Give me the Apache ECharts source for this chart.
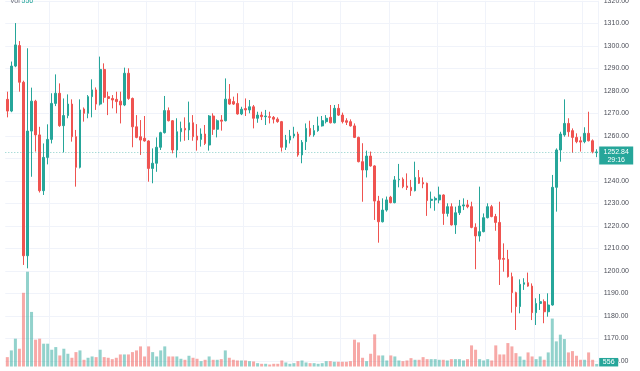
<!DOCTYPE html>
<html><head><meta charset="utf-8">
<script src="https://cdn.jsdelivr.net/npm/echarts@6/dist/echarts.min.js"></script>
<style>html,body{margin:0;padding:0;background:#fff}#c{width:640px;height:371px}</style>
</head><body><div id="c"></div>
<script>
// ---- data ----
const opens = [1276.2,1271.0,1291.0,1300.1,1283.8,1206.7,1262.1,1275.4,1260.4,1235.6,
1250.4,1258.4,1274.4,1278.9,1264.5,1269.0,1274.1,1259.6,1246.0,1271.9,
1270.0,1277.4,1280.4,1274.1,1289.5,1277.4,1276.6,1276.2,1275.4,1273.7,
1287.8,1276.6,1264.0,1259.6,1258.9,1257.7,1245.5,1247.8,1254.9,1261.4,
1271.2,1266.7,1253.7,1261.8,1263.3,1262.6,1265.8,1259.9,1258.4,1260.8,
1255.9,1268.8,1262.9,1267.0,1266.7,1276.3,1275.2,1274.4,1269.7,1272.1,
1271.5,1272.9,1267.8,1269.2,1268.5,1268.5,1268.2,1267.4,1266.3,1254.9,
1258.1,1259.9,1260.8,1251.5,1257.4,1263.3,1260.4,1262.3,1264.4,1266.3,
1268.2,1265.8,1272.2,1269.2,1266.7,1266.3,1264.4,1259.3,1248.5,1244.8,
1251.0,1246.6,1231.0,1221.8,1227.0,1232.7,1230.3,1240.4,1240.7,1237.7,
1237.1,1235.6,1241.5,1239.2,1238.9,1231.3,1231.5,1231.5,1233.7,1225.5,
1228.5,1220.4,1225.8,1228.8,1229.3,1228.5,1219.3,1215.5,1217.4,1223.6,
1228.5,1224.1,1221.5,1205.5,1205.1,1197.4,1190.3,1184.1,1194.0,1194.7,
1193.2,1181.4,1185.5,1186.3,1181.8,1184.8,1237.1,1253.7,1260.4,1265.5,
1262.3,1259.3,1257.8,1257.4,1261.1,1257.8,1252.5];
const closes = [1271.0,1291.0,1300.4,1283.8,1206.7,1262.1,1275.4,1260.4,1235.6,1250.4,
1258.4,1274.4,1278.9,1264.5,1269.0,1274.1,1259.6,1246.0,1271.5,1270.0,
1277.4,1280.4,1274.1,1289.5,1277.1,1276.6,1275.9,1275.2,1273.7,1287.8,
1276.6,1264.0,1259.3,1258.1,1257.7,1245.5,1247.8,1254.9,1261.4,1271.2,
1266.7,1253.7,1261.8,1263.3,1262.6,1265.8,1259.6,1258.1,1260.8,1256.6,
1268.8,1262.9,1266.7,1266.5,1276.3,1274.1,1274.1,1269.7,1271.8,1271.5,
1272.9,1267.8,1269.2,1268.5,1268.8,1268.2,1267.4,1266.3,1254.9,1258.1,
1259.9,1260.8,1251.5,1257.1,1263.3,1260.4,1262.3,1264.4,1266.7,1267.8,
1265.8,1272.2,1269.2,1266.3,1266.0,1264.4,1259.3,1248.5,1244.8,1251.0,
1246.6,1231.0,1221.8,1227.0,1231.5,1230.3,1240.4,1240.7,1237.4,1237.0,
1235.6,1241.5,1238.9,1238.6,1231.2,1231.8,1232.2,1233.7,1225.5,1228.5,
1220.4,1225.8,1228.8,1229.3,1228.5,1219.3,1215.5,1217.4,1223.6,1228.5,
1224.1,1221.5,1205.1,1205.1,1197.4,1190.3,1184.1,1194.0,1194.7,1193.2,
1181.4,1185.5,1186.3,1181.8,1184.8,1237.1,1253.7,1260.8,1265.5,1261.8,
1259.3,1257.4,1257.2,1261.1,1257.8,1253.0,1252.84];
const lows = [1268.2,1270.5,1290.5,1279.6,1202.6,1201.1,1241.8,1253.0,1234.8,1233.7,
1247.3,1256.6,1273.2,1264.0,1252.6,1267.8,1257.4,1237.4,1245.5,1266.3,
1267.8,1268.2,1271.5,1273.5,1274.7,1269.2,1272.2,1270.0,1265.5,1273.2,
1276.0,1254.9,1258.9,1251.5,1257.4,1239.6,1238.9,1244.0,1253.7,1261.0,
1266.4,1252.2,1250.3,1257.4,1257.8,1258.1,1257.8,1253.4,1255.2,1255.9,
1253.4,1260.4,1259.3,1262.3,1266.4,1273.8,1273.7,1269.4,1269.2,1268.8,
1270.0,1263.3,1265.8,1267.0,1264.8,1265.5,1265.5,1265.8,1253.0,1253.7,
1256.6,1258.9,1250.7,1247.8,1253.7,1259.6,1259.6,1261.8,1264.1,1265.5,
1265.5,1265.5,1268.8,1265.5,1264.8,1264.1,1259.0,1248.2,1230.7,1241.5,
1246.3,1222.6,1212.5,1221.5,1226.3,1230.0,1230.0,1237.1,1236.7,1235.9,
1233.3,1235.3,1238.6,1236.7,1224.4,1227.8,1226.7,1230.0,1220.4,1224.1,
1220.1,1216.4,1224.8,1227.0,1227.8,1218.9,1200.7,1213.0,1217.1,1223.3,
1223.8,1217.8,1193.7,1199.6,1197.0,1181.4,1173.7,1181.1,1191.5,1192.9,
1178.1,1175.9,1182.6,1176.7,1179.6,1184.5,1226.3,1248.5,1259.6,1259.6,
1252.5,1256.7,1253.0,1256.7,1257.5,1252.2,1250.5];
const highs = [1279.6,1293.0,1310.1,1302.1,1284.5,1298.9,1281.4,1276.0,1264.0,1256.6,
1265.1,1278.9,1287.3,1283.3,1276.6,1278.4,1276.2,1262.6,1276.2,1272.6,
1278.1,1285.1,1281.5,1295.2,1292.2,1279.6,1278.1,1279.6,1279.6,1290.3,
1290.0,1277.0,1269.2,1267.0,1268.8,1258.0,1254.4,1259.3,1261.8,1277.7,
1272.6,1267.0,1267.8,1266.3,1268.2,1275.2,1269.2,1265.2,1263.3,1264.8,
1269.2,1270.0,1267.3,1269.2,1285.5,1283.0,1277.4,1278.9,1272.9,1276.6,
1275.9,1273.7,1270.7,1270.7,1271.5,1270.7,1268.8,1268.2,1266.6,1260.4,
1262.6,1264.0,1261.8,1258.1,1265.5,1266.7,1264.8,1268.5,1268.8,1269.2,
1273.7,1273.7,1274.1,1270.3,1267.8,1267.3,1265.5,1259.6,1256.7,1253.4,
1253.0,1246.9,1233.3,1232.2,1233.0,1233.3,1242.1,1247.5,1241.5,1243.3,
1240.4,1248.5,1244.8,1241.5,1239.2,1235.2,1233.0,1237.4,1234.0,1230.0,
1230.0,1228.5,1231.5,1232.2,1231.5,1230.7,1221.1,1237.4,1225.5,1230.0,
1229.3,1225.3,1230.7,1212.2,1209.3,1199.2,1190.7,1196.2,1196.7,1199.2,
1194.4,1187.8,1189.7,1187.3,1190.0,1242.6,1254.4,1261.8,1276.2,1267.8,
1263.3,1261.1,1259.6,1263.8,1270.7,1258.4,1254.0];
const volumes = [2050,3520,6090,3890,16130,20750,11950,5870,6090,4990,
4990,3670,4250,2420,3890,2790,1910,3150,3520,1470,
1910,2200,2050,3670,2050,1910,1610,1910,2640,2640,
2640,3150,3520,4400,2200,4400,3150,2200,3520,4400,
2200,2200,2200,1690,1470,2350,1910,1690,1170,1470,
2200,1470,1470,1610,3520,1910,1470,1320,1320,1320,
1170,1100,730,590,590,440,590,590,1320,880,
590,730,1170,1320,880,730,730,590,730,1170,
1170,1030,1030,1030,1030,1170,5870,5280,1910,1170,
2790,7040,2420,2420,1320,2420,2200,1320,1170,1320,
1830,1470,1470,2050,1610,1610,1610,1470,1470,1320,
1610,1610,1610,1320,1610,4620,3670,1610,1320,1610,
1320,4620,2640,2640,5130,4400,2930,2200,1470,3080,
2200,1610,2200,1470,3080,10490,5500,6970,6010,3080,
3370,2350,1470,1470,3080,1470,556];
const priceMin = 1160, priceMax = 1320, priceStep = 10;
const lastPrice = 1252.84;
const countdown = '29:16';
const lastVolume = 556;
const volLabel = 'Vol';

// ---- styling ----
const UP = '#26a69a', DOWN = '#ef5350';
const UPV = 'rgba(38,166,154,0.5)', DOWNV = 'rgba(239,83,80,0.5)';
const GRID = '#f0f3fa';
const LEFT = 5.3, RIGHT = 41.3;
const FONT = 'Liberation Sans, Arial, sans-serif';

const cats = opens.map((_, i) => String(i));
const candleData = opens.map((o, i) => [o, closes[i], lows[i], highs[i]]);
const volData = volumes.map((v, i) => ({value: v, itemStyle: {color: closes[i] >= opens[i] ? UPV : DOWNV}}));
const vSplit = (i) => i >= 11 && (i - 11) % 12 === 0;

const chart = echarts.init(document.getElementById('c'), null, {renderer: 'canvas'});
chart.setOption({
  animation: false,
  backgroundColor: '#ffffff',
  grid: [
    {left: LEFT, right: RIGHT, top: 0.8, bottom: 10.2, containLabel: false, outerBoundsMode: 'none'},
    {left: LEFT, right: RIGHT, top: 266, bottom: 4.5, containLabel: false, outerBoundsMode: 'none'}
  ],
  xAxis: [
    {type: 'category', gridIndex: 0, data: cats, boundaryGap: true,
     axisLine: {show: false}, axisTick: {show: false}, axisLabel: {show: false},
     splitLine: {show: true, interval: vSplit, lineStyle: {color: GRID, width: 1}}},
    {type: 'category', gridIndex: 1, data: cats, boundaryGap: true,
     axisLine: {show: false}, axisTick: {show: false}, axisLabel: {show: false},
     splitLine: {show: true, interval: vSplit, lineStyle: {color: GRID, width: 1}}}
  ],
  yAxis: [
    {type: 'value', gridIndex: 0, position: 'right', min: priceMin, max: priceMax, interval: priceStep,
     axisLine: {show: false}, axisTick: {show: false},
     splitLine: {show: true, lineStyle: {color: GRID, width: 1}},
     axisLabel: {show: true, showMinLabel: true, showMaxLabel: true, margin: 5, fontSize: 7,
                 color: '#4c4f59', fontFamily: FONT, formatter: v => v.toFixed(2)}},
    {type: 'value', gridIndex: 1, min: 0, max: 22000, show: false, splitLine: {show: false}}
  ],
  series: [
    {type: 'bar', xAxisIndex: 1, yAxisIndex: 1, data: volData, barWidth: 3, z: 1, silent: true},
    {type: 'candlestick', xAxisIndex: 0, yAxisIndex: 0, data: candleData, barWidth: 2.2, z: 3,
     clip: false,
     itemStyle: {color: UP, color0: DOWN, borderColor: UP, borderColor0: DOWN, borderWidth: 1},
     markLine: {silent: true, symbol: ['none', 'none'], label: {show: false},
                lineStyle: {color: UP, type: [1, 2], width: 1, opacity: 0.55},
                data: [{yAxis: lastPrice}]}}
  ]
});

const W = chart.getWidth();
const gx = W - RIGHT + 0.5;
const yP = chart.convertToPixel({yAxisIndex: 0}, lastPrice);
const yV = chart.convertToPixel({yAxisIndex: 1}, lastVolume);
chart.setOption({
  graphic: [
    {type: 'rect', z: 100, shape: {x: gx, y: yP - 5.5, width: 34, height: 18}, style: {fill: UP}},
    {type: 'text', z: 101, x: gx + 17, y: yP, style: {text: lastPrice.toFixed(2), fill: '#ffffff', fontSize: 7, fontFamily: FONT, align: 'center', verticalAlign: 'middle'}},
    {type: 'text', z: 101, x: gx + 17, y: yP + 8, style: {text: countdown, fill: '#ffffff', fontSize: 7, fontFamily: FONT, align: 'center', verticalAlign: 'middle'}},
    {type: 'rect', z: 100, shape: {x: gx, y: yV - 6, width: 19, height: 8.5}, style: {fill: UP}},
    {type: 'text', z: 101, x: gx + 9.5, y: yV - 1.75, style: {text: String(lastVolume), fill: '#ffffff', fontSize: 7, fontFamily: FONT, align: 'center', verticalAlign: 'middle'}},
    {type: 'text', z: 101, x: 10, y: 1.5, style: {text: volLabel, fill: '#6a6d78', fontSize: 7, fontFamily: FONT, align: 'left', verticalAlign: 'middle'}},
    {type: 'text', z: 101, x: 21.5, y: 1.5, style: {text: String(lastVolume), fill: UP, fontSize: 7, fontFamily: FONT, align: 'left', verticalAlign: 'middle'}}
  ]
});
</script></body></html>
